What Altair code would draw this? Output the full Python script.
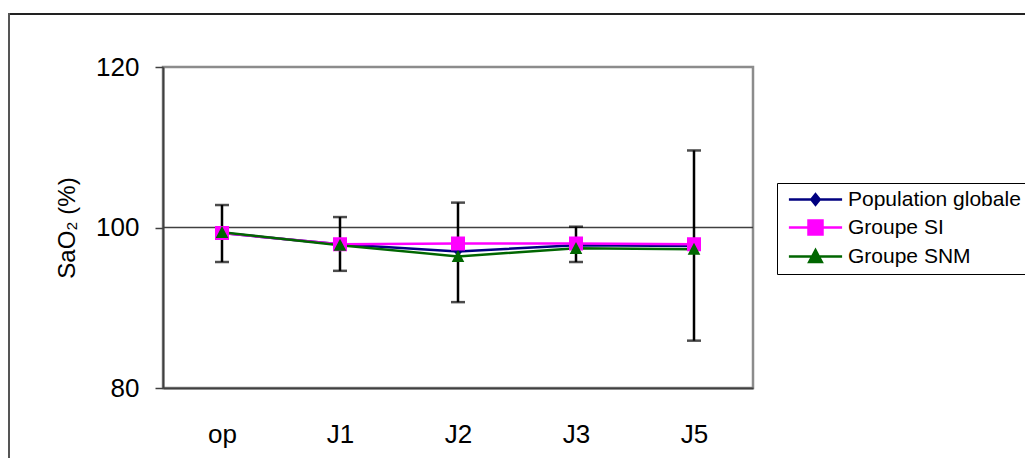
import altair as alt
import pandas as pd

categories = ["op", "J1", "J2", "J3", "J5"]
series_names = ["Population globale", "Groupe SI", "Groupe SNM"]
pop_values = [99.3, 97.9, 97.0, 97.8, 97.7]
si_values = [99.3, 97.9, 98.0, 98.0, 97.9]
snm_values = [99.4, 97.8, 96.4, 97.4, 97.3]
err_low = [95.7, 94.6, 90.7, 95.7, 85.9]
err_high = [102.8, 101.3, 103.1, 100.1, 109.6]
y_ticks = [80, 100, 120]

series_colors = ["#000080", "#FF00FF", "#006600"]
# custom symbols: a short legend line plus the marker (line is only stroked in the legend)
series_shapes = [
    "M-3.8,0H3.8M0,-0.75L0.6,0L0,0.75L-0.6,0Z",
    "M-3.8,0H3.8M-1,-1H1V1H-1Z",
    "M-3.8,0H3.8M0,-0.9L0.9,0.8H-0.9Z",
]

rows = []
for name, vals in zip(series_names, [pop_values, si_values, snm_values]):
    for c, v in zip(categories, vals):
        rows.append({"cat": c, "series": name, "value": v})
df = pd.DataFrame(rows)
df_err = pd.DataFrame({"cat": categories, "lo": err_low, "hi": err_high})
df_one = pd.DataFrame({"a": [0]})

x_enc = alt.X("cat:N", sort=categories,
              scale=alt.Scale(type="point", padding=0.5),
              axis=alt.Axis(title=None, ticks=False, labelAngle=0, labelPadding=33,
                            grid=False))
y_scale = alt.Scale(domain=[80, 120], nice=False)
y_axis = alt.Axis(values=y_ticks, grid=False, title="SaO₂ (%)", titlePadding=16,
                  labelPadding=16)

legend = alt.Legend(
    title=None, orient="none", legendX=614, legendY=116,
    strokeColor="#000000", fillColor="white", padding=6,
    labelFont="Liberation Sans", labelFontSize=21, labelColor="black",
    labelLimit=400,
    symbolSize=196, symbolStrokeWidth=2.5, symbolOffset=22,
    labelOffset=22, rowPadding=5)

color_enc = alt.Color("series:N", sort=series_names,
                      scale=alt.Scale(domain=series_names, range=series_colors),
                      legend=legend)
fill_enc = alt.Fill("series:N", sort=series_names,
                    scale=alt.Scale(domain=series_names, range=series_colors),
                    legend=legend)
shape_enc = alt.Shape("series:N", sort=series_names,
                      scale=alt.Scale(domain=series_names, range=series_shapes),
                      legend=legend)

grid = alt.Chart(df_one).mark_rule(color="#404040", strokeWidth=1.5).encode(
    y=alt.datum(100, scale=y_scale, axis=y_axis))

err_rule = alt.Chart(df_err).mark_rule(color="black", strokeWidth=2.5).encode(
    x=x_enc, y=alt.Y("lo:Q", scale=y_scale, axis=y_axis), y2="hi:Q")
err_lo = alt.Chart(df_err).mark_tick(color="black", thickness=2.5, size=14).encode(
    x=x_enc, y=alt.Y("lo:Q", scale=y_scale, axis=y_axis))
err_hi = alt.Chart(df_err).mark_tick(color="black", thickness=2.5, size=14).encode(
    x=x_enc, y=alt.Y("hi:Q", scale=y_scale, axis=y_axis))

lines = alt.Chart(df).mark_line(strokeWidth=2.5).encode(
    x=x_enc, y=alt.Y("value:Q", scale=y_scale, axis=y_axis), color=color_enc)
points = alt.Chart(df).mark_point(filled=True, opacity=1, size=196).encode(
    x=x_enc, y=alt.Y("value:Q", scale=y_scale, axis=y_axis),
    fill=fill_enc, shape=shape_enc)

frame_top = alt.Chart(df_one).mark_rule(color="#222222", strokeWidth=2).encode(
    x=alt.value(-155), x2=alt.value(875), y=alt.value(-53))
frame_left = alt.Chart(df_one).mark_rule(color="#555555", strokeWidth=2).encode(
    x=alt.value(-154), y=alt.value(-54), y2=alt.value(400))

chart = alt.layer(
    frame_top, frame_left, grid, err_rule, err_lo, err_hi, lines, points
).properties(
    width=590, height=321,
    autosize=alt.AutoSizeParams(type="none"),
    padding={"left": 155, "top": 59, "right": 272, "bottom": 70},
    background="white",
).configure_view(
    stroke="#8c8c8c", strokeWidth=2.5
).configure_axis(
    domainColor="#404040", domainWidth=2, tickColor="#404040", tickWidth=1.5,
    tickSize=8, labelFont="Liberation Sans", labelFontSize=26, labelColor="black",
    titleFont="Liberation Sans", titleFontSize=24, titleFontWeight="normal",
    titleColor="black"
)

chart.save("out.html", embed_options={"renderer": "svg", "actions": False})
